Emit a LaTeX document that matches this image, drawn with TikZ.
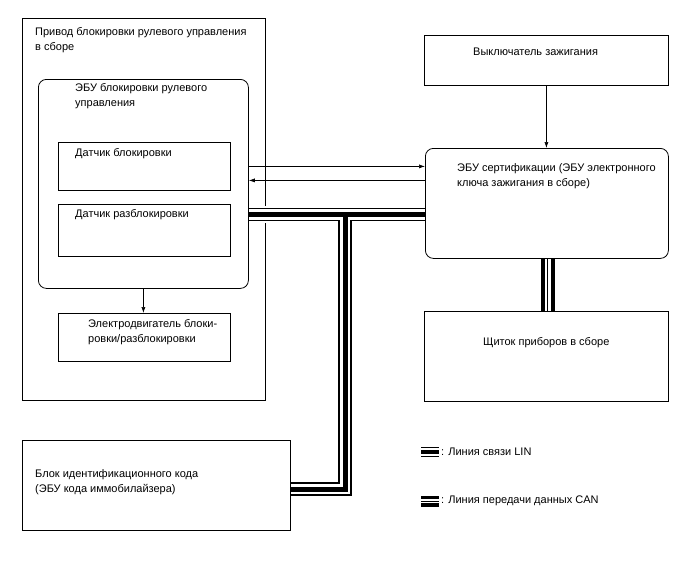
\documentclass[tikz,border=0pt]{standalone}
\usepackage{fontspec}
\setmainfont{Liberation Sans}
\usetikzlibrary{arrows.meta,positioning,calc}

\begin{document}
\begin{tikzpicture}[x=1pt,y=-1pt,font=\fontsize{11}{14.5}\selectfont,
  blok/.style={rectangle,draw,line width=0.8pt,anchor=north west,inner sep=0pt},
  blokr/.style={blok,rounded corners=8pt},
  tekst/.style={anchor=north west,inner sep=0pt,align=left},
  strelka/.style={-{Latex[length=6pt,width=4pt]},line width=0.6pt},
  linhalo/.style={white,line width=17pt,shorten <=2pt,shorten >=2pt},
  linvnesh/.style={black,line width=13.2pt},
  linbel/.style={white,line width=10.6pt},
  linjadro/.style={black,line width=5pt},
  canvnesh/.style={black,line width=14pt},
  canbel/.style={white,line width=6pt},
  canjadro/.style={black,line width=1pt}]

  \useasboundingbox (0,0) rectangle (688,560);

  \node[blok,minimum width=243pt,minimum height=382pt]  (privod) at (22,18) {};
  \node[blokr,minimum width=210pt,minimum height=209pt] (ecu) at (38,79) {};
  \node[blok,minimum width=172pt,minimum height=48pt]   (datBlok) at (58,142) {};
  \node[blok,minimum width=172pt,minimum height=52pt]   (datRazb) at (58,204) {};
  \node[blok,minimum width=172pt,minimum height=48pt]   (motor) at (58,313) {};
  \node[blok,minimum width=244pt,minimum height=50pt]   (vykl) at (424,35) {};
  \node[blokr,minimum width=243pt,minimum height=110pt] (cert) at (425,148) {};
  \node[blok,minimum width=244pt,minimum height=90pt]   (panel) at (424,311) {};
  \node[blok,minimum width=268pt,minimum height=90pt]   (immo) at (22,440) {};

  \node[tekst] (privodT) at (35,27.5) {Привод блокировки рулевого управления\\в сборе};
  \node[tekst] (ecuT) at (75,83.5) {ЭБУ блокировки рулевого\\управления};
  \node[tekst] (datBlokT) at (75,148.5) {Датчик блокировки};
  \node[tekst] (datRazbT) at (75,209.5) {Датчик разблокировки};
  \node[tekst] (motorT) at (88,319.5) {Электродвигатель блоки-\\ровки/разблокировки};
  \node[tekst] (vyklT) at (473,47.5) {Выключатель зажигания};
  \node[tekst] (certT) at (457,163.5) {ЭБУ сертификации (ЭБУ электронного\\ключа зажигания в сборе)};
  \node[tekst] (panelT) at (483,337.5) {Щиток приборов в сборе};
  \node[tekst] (immoT) at (35,469.5) {Блок идентификационного кода\\(ЭБУ кода иммобилайзера)};

  \node[inner sep=0pt,anchor=west] (linT) at (441,452) {: Линия связи LIN};
  \node[inner sep=0pt,anchor=west] (canT) at (441,501) {: Линия передачи данных CAN};

  \coordinate (sig1) at ([yshift=37pt]cert.west);
  \coordinate (sig2) at ([yshift=23pt]cert.west);
  \coordinate (shina) at ([yshift=-11pt]cert.west);
  \coordinate (otvod) at (345,214);
  \coordinate (ugol) at (345,489);

  \draw[strelka] (sig1 -| ecu.east) -- (sig1);
  \draw[strelka] (sig2) -- (sig2 -| ecu.east);
  \draw[strelka] (ecu.south) -- (ecu.south |- motor.north);
  \draw[strelka] (vykl.south) -- (vykl.south |- cert.north);

  \foreach \sloj in {linhalo,linvnesh,linbel,linjadro}
    \draw[\sloj] (shina -| ecu.east) -- (shina)
                 (otvod) -- (ugol) -- (ugol -| immo.east);

  \foreach \sloj in {canvnesh,canbel,canjadro}
    \draw[\sloj] ([xshift=1pt]cert.south) -- ([xshift=1pt]cert.south |- panel.north);

  \draw[line width=10pt] ([xshift=-20pt]linT.west) -- ([xshift=-2pt]linT.west);
  \draw[white,line width=8pt] ([xshift=-20pt]linT.west) -- ([xshift=-2pt]linT.west);
  \draw[line width=4pt] ([xshift=-20pt]linT.west) -- ([xshift=-2pt]linT.west);

  \draw[line width=11pt] ([xshift=-20pt]canT.west) -- ([xshift=-2pt]canT.west);
  \draw[white,line width=4pt] ([xshift=-20pt]canT.west) -- ([xshift=-2pt]canT.west);
  \draw[line width=0.8pt] ([xshift=-20pt]canT.west) -- ([xshift=-2pt]canT.west);
\end{tikzpicture}
\end{document}
